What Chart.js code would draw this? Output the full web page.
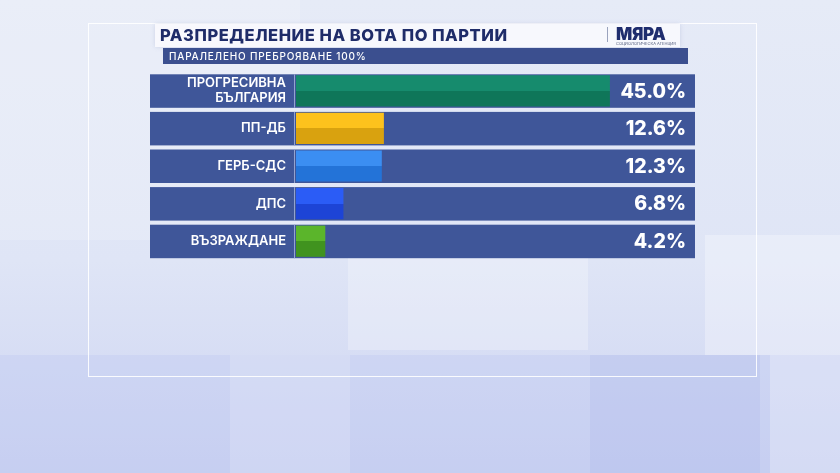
<!DOCTYPE html>
<html>
<head>
<meta charset="utf-8">
<script src="https://cdn.jsdelivr.net/npm/chart.js@4"></script>
<style>
html, body { margin: 0; padding: 0; }
body {
    width: 840px; height: 473px; overflow: hidden; position: relative;
    background: linear-gradient(180deg, #e6ebf7 0%, #dfe5f6 55%, #cdd4f2 100%);
    font-family: Inter, "Open Sans", sans-serif;
}
.panel { position: absolute; }
#frame {
    position: absolute; left: 88px; top: 23px; width: 667px; height: 352px;
    border: 1px solid rgba(255, 255, 255, 0.9);
}
#title {
    position: absolute; left: 155px; top: 24px; width: 525px; height: 23px;
    background: rgba(248, 249, 253, 0.92);
    box-shadow: 0 0 4px rgba(150, 160, 200, 0.35);
}
#title span {
    position: absolute; left: 5px; top: 1px;
    font-size: 16.5px; font-weight: 800; color: #1f2c69; letter-spacing: 0.55px;
}
#sep { position: absolute; left: 452px; top: 3px; width: 1px; height: 15px; background: #9aa3bd; }
#logo {
    position: absolute; left: 461px; top: 0px;
    font-size: 17px; font-weight: 900; color: #1f2d6e; letter-spacing: -0.3px;
}
#logosub {
    position: absolute; left: 461px; top: 17px;
    font-size: 4px; color: #55607f; white-space: nowrap;
}
#subtitle {
    position: absolute; left: 163px; top: 48px; width: 525px; height: 16px;
    background: #3b4f8f;
}
#subtitle span {
    position: absolute; left: 6px; top: 2px;
    font-size: 10px; font-weight: 500; color: #ffffff; letter-spacing: 0.8px;
}
#chart { position: absolute; left: 0; top: 0; }
</style>
</head>
<body>
<div class="panel" style="left:0;top:0;width:300px;height:240px;background:rgba(255,255,255,0.18)"></div>
<div class="panel" style="left:348px;top:240px;width:240px;height:110px;background:rgba(255,255,255,0.25)"></div>
<div class="panel" style="left:705px;top:235px;width:135px;height:120px;background:rgba(255,255,255,0.3)"></div>
<div class="panel" style="left:0;top:355px;width:840px;height:118px;background:rgba(180,190,240,0.25)"></div>
<div class="panel" style="left:230px;top:355px;width:120px;height:118px;background:rgba(255,255,255,0.15)"></div>
<div class="panel" style="left:590px;top:355px;width:170px;height:118px;background:rgba(150,160,230,0.15)"></div>
<div class="panel" style="left:770px;top:355px;width:70px;height:118px;background:rgba(255,255,255,0.25)"></div>
<div id="frame"></div>

<canvas id="chart" width="840" height="473"></canvas>

<div id="title">
    <span>РАЗПРЕДЕЛЕНИЕ НА ВОТА ПО ПАРТИИ</span>
    <div id="sep"></div>
    <div id="logo">МЯРА</div>
    <div id="logosub">СОЦИОЛОГИЧЕСКА АГЕНЦИЯ</div>
</div>
<div id="subtitle"><span>ПАРАЛЕЛЕНО ПРЕБРОЯВАНЕ 100%</span></div>

<script>
const parties = [["ПРОГРЕСИВНА", "БЪЛГАРИЯ"], "ПП-ДБ", "ГЕРБ-СДС", "ДПС", "ВЪЗРАЖДАНЕ"];
const shares = [45.0, 12.6, 12.3, 6.8, 4.2];

const topColors = ["#168b6d", "#fdc21d", "#3b8ef2", "#2b5cf6", "#5bb52b"];
const bottomColors = ["#0f7659", "#d9a20f", "#2373d8", "#1d44d6", "#40931f"];
const rowColor = "#3f5699";

// light top half, darker bottom half
function twoTone(c) {
    const i = c.dataIndex;
    const y = c.chart.scales.y;
    if (i === undefined || !y) return topColors[0];
    const mid = y.getPixelForValue(i);
    if (!isFinite(mid)) return topColors[i];
    const g = c.chart.ctx.createLinearGradient(0, mid - 16, 0, mid + 16);
    g.addColorStop(0, topColors[i]);
    g.addColorStop(0.5, topColors[i]);
    g.addColorStop(0.5, bottomColors[i]);
    g.addColorStop(1, bottomColors[i]);
    return g;
}

const rows = {
    id: "rows",
    beforeDraw(chart) {
        const ctx = chart.ctx;
        const y = chart.scales.y;
        const area = chart.chartArea;
        ctx.save();
        parties.forEach((p, i) => {
            const mid = y.getPixelForValue(i);
            ctx.fillStyle = rowColor;
            ctx.fillRect(150, mid - 16.5, area.right - 150, 33.5);
            ctx.fillStyle = "#93a3cf";
            ctx.fillRect(area.left - 2, mid - 16.5, 1, 33.5);
        });
        ctx.restore();
    }
};

const values = {
    id: "values",
    afterDatasetsDraw(chart) {
        const ctx = chart.ctx;
        const y = chart.scales.y;
        const area = chart.chartArea;
        ctx.save();
        ctx.fillStyle = "#ffffff";
        ctx.font = "800 19.5px Inter";
        ctx.textAlign = "right";
        ctx.textBaseline = "middle";
        shares.forEach((v, i) => {
            ctx.fillText(v.toFixed(1) + "%", area.right - 9, y.getPixelForValue(i) + 1);
        });
        ctx.restore();
    }
};

new Chart(document.getElementById("chart"), {
    type: "bar",
    data: {
        labels: parties,
        datasets: [{
            data: shares,
            backgroundColor: twoTone,
            borderWidth: 0,
            barPercentage: 1,
            categoryPercentage: 0.83
        }]
    },
    options: {
        indexAxis: "y",
        responsive: false,
        animation: false,
        events: [],
        layout: {
            padding: { left: 151, right: 145, top: 72, bottom: 213 }
        },
        plugins: {
            legend: { display: false },
            tooltip: { enabled: false }
        },
        scales: {
            x: { display: false, min: 0, max: 57.2 },
            y: {
                grid: { display: false },
                border: { display: false },
                afterFit(s) { s.width = 145; },
                ticks: {
                    color: "#ffffff",
                    padding: 2,
                    font: { family: "Inter", weight: "600", size: 13, lineHeight: 1.15 }
                }
            }
        }
    },
    plugins: [rows, values]
});
</script>
</body>
</html>
